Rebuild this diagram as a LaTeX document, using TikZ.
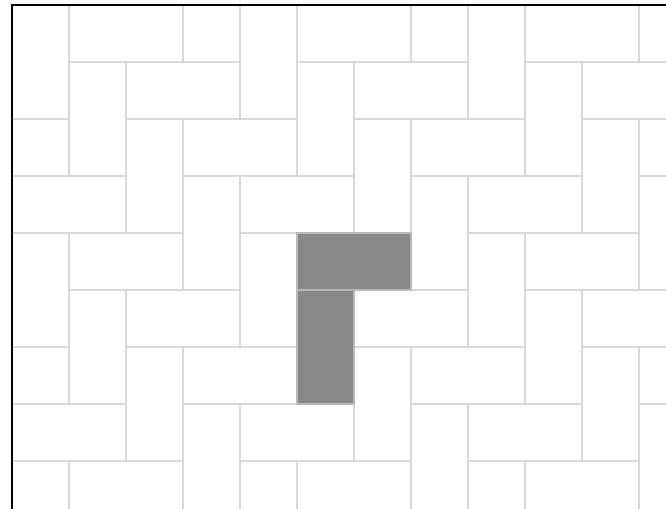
\documentclass[tikz,border=0pt]{standalone}
\usepackage{xcolor}
\usepackage{tikz}

\definecolor{tileline}{HTML}{D8D8D8}
\definecolor{tilefill}{HTML}{888888}
\definecolor{tileedge}{HTML}{B8B8B8}

\begin{document}
\begin{tikzpicture}[
    tile/.style={draw=tileline, line width=1pt, fill=white},
    marked/.style={draw=tileedge, line width=1pt, fill=tilefill}
]
    \useasboundingbox (-0.2105,0.0877) rectangle (11.474,-8.842);
    \fill[white] (-0.2105,0.0877) rectangle (11.474,-8.842);

    % Herringbone tiles
    \begin{scope}
        \clip (0,0) rectangle (11.474,-8.842);
        \foreach \m in {-4,...,3} {
            \foreach \k in {-2,...,11} {
                % horizontal tile
                \pgfmathtruncatemacro{\hx}{4*\m+\k+1}
                \draw[tile] (\hx,-\k) rectangle ++(2,-1);
                % vertical tile
                \pgfmathtruncatemacro{\vx}{4*\m+\k}
                \draw[tile] (\vx,-\k) rectangle ++(1,-2);
            }
        }
        % Highlighted pair
        \draw[marked] (5,-4) rectangle (7,-5);
        \draw[marked] (5,-5) rectangle (6,-7);
    \end{scope}

    % Border
    \draw[black, line width=1.4pt] (0,-8.842) -- (0,0) -- (11.474,0);
\end{tikzpicture}
\end{document}
